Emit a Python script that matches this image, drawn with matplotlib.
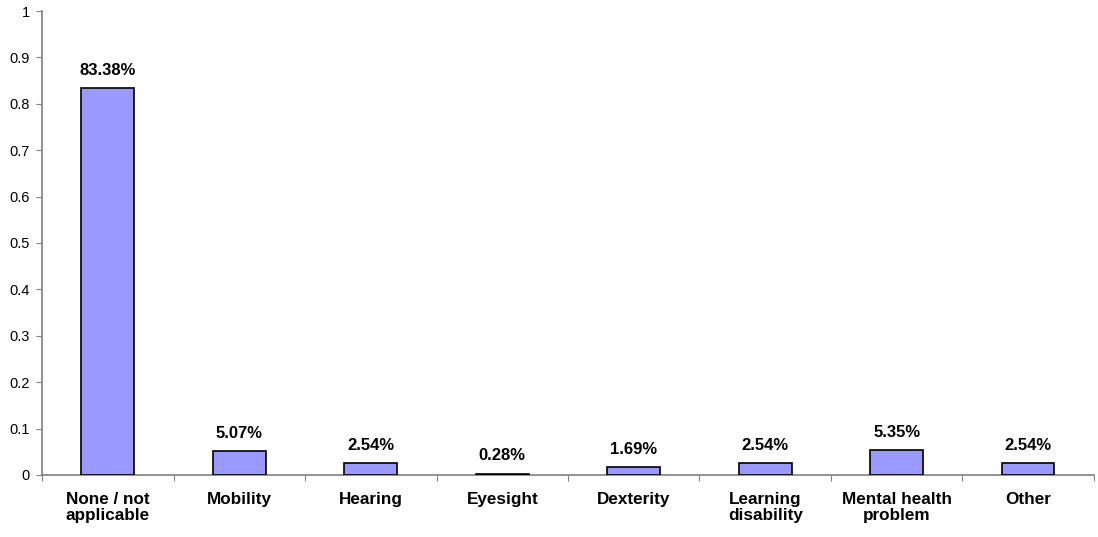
import matplotlib
matplotlib.use("Agg")
import matplotlib.pyplot as plt
import numpy as np

plt.rcParams['font.family'] = ['Liberation Sans', 'DejaVu Sans']

categories = ["None / not\napplicable", "Mobility", "Hearing", "Eyesight", "Dexterity",
              "Learning\ndisability", "Mental health\nproblem", "Other"]
values = [0.8338, 0.0507, 0.0254, 0.0028, 0.0169, 0.0254, 0.0535, 0.0254]
labels = ["83.38%", "5.07%", "2.54%", "0.28%", "1.69%", "2.54%", "5.35%", "2.54%"]
yticks = [0, 0.1, 0.2, 0.3, 0.4, 0.5, 0.6, 0.7, 0.8, 0.9, 1]
ytick_labels = ["0", "0.1", "0.2", "0.3", "0.4", "0.5", "0.6", "0.7", "0.8", "0.9", "1"]

fig = plt.figure(figsize=(10.98, 5.37), dpi=100)
ax = fig.add_axes([0.0383, 0.1155, 0.958, 0.864])

x = np.arange(len(categories))
ax.bar(x, values, width=0.4, color="#9999FF", edgecolor="black", linewidth=1.2, zorder=3)

for xi, v, lab in zip(x, values, labels):
    ax.text(xi, v + 0.022, lab, ha="center", va="bottom", fontsize=12, fontweight="bold")

ax.set_xlim(-0.5, len(categories) - 0.5)
ax.set_ylim(0, 1)
ax.set_yticks(yticks)
ax.set_yticklabels(ytick_labels, fontsize=10.5)

ax.set_xticks(np.arange(-0.5, len(categories), 1.0))
ax.set_xticklabels([])
ax.set_xticks(x, minor=True)
ax.set_xticklabels(categories, minor=True, fontsize=12.3, fontweight="bold", linespacing=1.12)
ax.tick_params(axis="x", which="minor", length=0, pad=12)
ax.tick_params(axis="x", which="major", length=4, direction="out", color="#808080")
ax.tick_params(axis="y", length=4, direction="out", color="#808080", pad=5)

for s in ["top", "right"]:
    ax.spines[s].set_visible(False)
for s in ["left", "bottom"]:
    ax.spines[s].set_color("#808080")
    ax.spines[s].set_linewidth(1.2)

fig.savefig("out.png", dpi=100)
